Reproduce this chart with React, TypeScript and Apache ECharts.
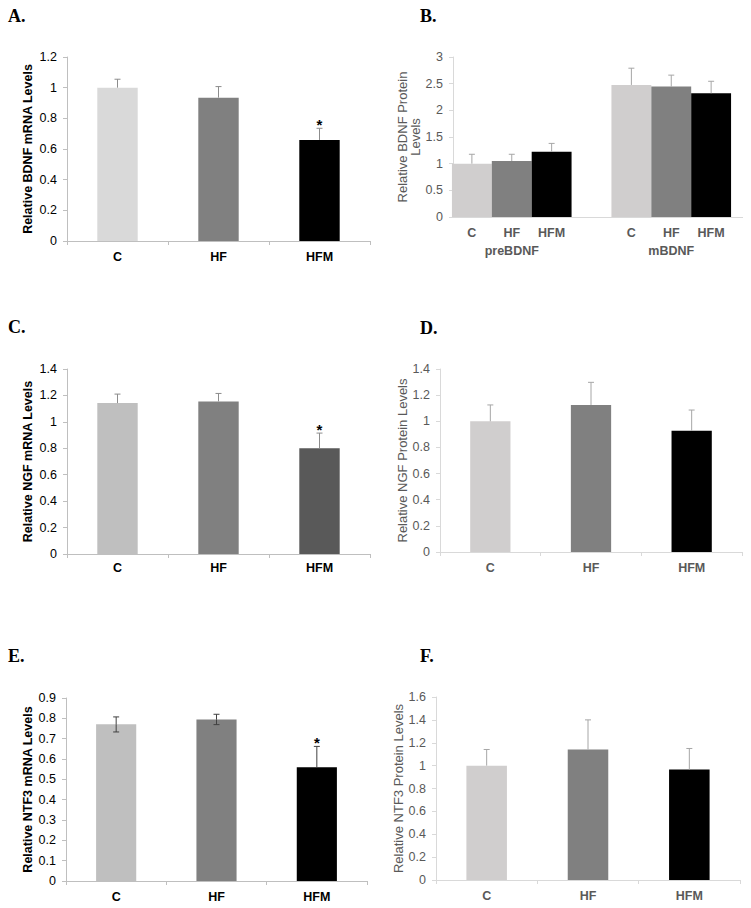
import React, { useEffect, useRef } from "react";
import * as echarts from "echarts";

// ---------- data ----------
const CATEGORIES = ["C", "HF", "HFM"];
const STARS = ["", "", "*"];

const A_VALUES = [1.0, 0.935, 0.659];
const A_ERR = [0.055, 0.072, 0.076];

const B_GROUPS = ["preBDNF", "mBDNF"];
const B_C_VALUES = [1.0, 2.476];
const B_C_ERR = [0.176, 0.314];
const B_HF_VALUES = [1.05, 2.445];
const B_HF_ERR = [0.126, 0.215];
const B_HFM_VALUES = [1.225, 2.32];
const B_HFM_ERR = [0.155, 0.225];

const C_VALUES = [1.142, 1.155, 0.8];
const C_ERR = [0.068, 0.06, 0.115];

const D_VALUES = [1.0, 1.125, 0.928];
const D_ERR = [0.125, 0.173, 0.158];

const E_VALUES = [0.771, 0.794, 0.559];
const E_ERR_UP = [0.036, 0.026, 0.103];
const E_ERR_DOWN = [0.038, 0.025, 0];

const F_VALUES = [1.0, 1.141, 0.966];
const F_ERR = [0.141, 0.259, 0.184];

// axis ranges [max, interval]
const A_AXIS = [1.2, 0.2];
const B_AXIS = [3, 0.5];
const C_AXIS = [1.4, 0.2];
const D_AXIS = [1.4, 0.2];
const E_AXIS = [0.9, 0.1];
const F_AXIS = [1.6, 0.2];

const SANS = "'Liberation Sans', Arial, Helvetica, sans-serif";
const SERIF = "'Liberation Serif', 'Times New Roman', serif";

type Style = "dark" | "gray";

function yAxisCfg(gi: number, axis: number[], name: string, style: Style, nameGap: number, offset = 0) {
  const dark = style === "dark";
  return {
    type: "value",
    gridIndex: gi,
    min: 0,
    max: axis[0],
    interval: axis[1],
    offset,
    name,
    nameLocation: "middle",
    nameGap,
    nameTextStyle: {
      fontFamily: SANS,
      fontSize: dark ? 12.5 : 13,
      fontWeight: dark ? "bold" : "normal",
      color: dark ? "#000" : "#595959",
      lineHeight: 13,
    },
    axisLine: { show: true, lineStyle: { color: dark ? "#bfbfbf" : "#d9d9d9", width: 1 } },
    axisTick: { show: true, inside: false, length: 4, lineStyle: { color: dark ? "#bfbfbf" : "#d9d9d9" } },
    splitLine: { show: false },
    axisLabel: {
      fontFamily: SANS,
      fontSize: 12.5,
      color: dark ? "#000" : "#595959",
      margin: 10,
    },
  };
}

function xAxisCfg(gi: number, style: Style, margin: number) {
  const dark = style === "dark";
  return {
    type: "category",
    gridIndex: gi,
    data: CATEGORIES,
    axisLine: { show: true, lineStyle: { color: dark ? "#bfbfbf" : "#d9d9d9", width: 1 } },
    axisTick: { show: true, length: 4, lineStyle: { color: dark ? "#bfbfbf" : "#d9d9d9" } },
    axisLabel: {
      fontFamily: SANS,
      fontSize: 12.5,
      fontWeight: "bold",
      color: dark ? "#000" : "#595959",
      margin,
    },
  };
}

function errorSeries(
  gi: number,
  values: number[],
  up: number[],
  down: number[] | null,
  color: string,
  stars: string[] | null,
  slot: number = 0,
  slots: number = 1,
  groupRatio: number = 1
) {
  const data = values.map((v, i) => [i, v, up[i], down ? down[i] : 0]);
  return {
    type: "custom",
    xAxisIndex: gi,
    yAxisIndex: gi,
    z: 5,
    silent: true,
    data,
    encode: { x: 0, y: 1 },
    renderItem: (params: any, api: any) => {
      const idx = api.value(0);
      const v = api.value(1);
      const u = api.value(2);
      const d = api.value(3);
      const catW = api.size([1, 0])[0];
      const bw = (catW * groupRatio) / slots;
      const dx = (slot - (slots - 1) / 2) * bw;
      const b = api.coord([idx, v]);
      const t = api.coord([idx, v + u]);
      const x = b[0] + dx;
      const cap = 3;
      const ls = { stroke: color, lineWidth: 1 };
      const children: any[] = [
        { type: "line", shape: { x1: x, y1: b[1], x2: x, y2: t[1] }, style: ls },
        { type: "line", shape: { x1: x - cap, y1: t[1], x2: x + cap, y2: t[1] }, style: ls },
      ];
      if (d > 0) {
        const l = api.coord([idx, v - d]);
        children.push({ type: "line", shape: { x1: x, y1: b[1], x2: x, y2: l[1] }, style: ls });
        children.push({ type: "line", shape: { x1: x - cap, y1: l[1], x2: x + cap, y2: l[1] }, style: ls });
      }
      if (stars && stars[idx]) {
        children.push({
          type: "text",
          x: x,
          y: t[1] + 4,
          style: {
            text: stars[idx],
            fill: "#000",
            font: `bold 15px ${SANS}`,
            align: "center",
            verticalAlign: "bottom",
          },
        });
      }
      return { type: "group", children };
    },
  };
}

function simpleBar(gi: number, values: number[], colors: string[]) {
  return {
    type: "bar",
    xAxisIndex: gi,
    yAxisIndex: gi,
    barWidth: "40%",
    data: values.map((v, i) => ({ value: v, itemStyle: { color: colors[i] } })),
  };
}

function panelLabel(text: string, x: number, y: number) {
  return {
    type: "text",
    x,
    y,
    style: {
      text,
      fill: "#000",
      font: `bold 18px ${SERIF}`,
      align: "left",
      verticalAlign: "middle",
    },
  };
}

export default function App() {
  const ref = useRef<HTMLDivElement>(null);
  useEffect(() => {
    if (!ref.current) return;
    const chart = echarts.init(ref.current, undefined, { renderer: "svg" });

    const grayLabel = {
      fontFamily: SANS,
      fontSize: 12.5,
      fontWeight: "bold",
      color: "#595959",
    };

    const bBar = (name: string, values: number[], color: string) => ({
      type: "bar",
      name,
      xAxisIndex: 1,
      yAxisIndex: 1,
      barGap: "0%",
      barCategoryGap: "25%",
      itemStyle: { color },
      label: { show: true, position: "bottom", distance: 9, formatter: name, ...grayLabel },
      data: values,
    });

    const option: any = {
      animation: false,
      backgroundColor: "#fff",
      grid: [
        { left: 67, top: 57, width: 303, height: 184 },
        { left: 432, top: 57, width: 332, height: 160 },
        { left: 67, top: 369, width: 303, height: 185 },
        { left: 440, top: 369, width: 302, height: 183 },
        { left: 66, top: 698, width: 301, height: 183 },
        { left: 436, top: 697, width: 304, height: 183 },
      ],
      xAxis: [
        xAxisCfg(0, "dark", 9),
        {
          type: "category",
          gridIndex: 1,
          data: B_GROUPS,
          axisLine: { show: false },
          axisTick: { show: false },
          axisLabel: { ...grayLabel, margin: 27 },
        },
        xAxisCfg(2, "dark", 7),
        xAxisCfg(3, "gray", 9),
        xAxisCfg(4, "dark", 9),
        xAxisCfg(5, "gray", 9),
      ],
      yAxis: [
        yAxisCfg(0, A_AXIS, "Relative BDNF mRNA Levels", "dark", 33),
        yAxisCfg(1, B_AXIS, "Relative BDNF Protein\nLevels", "gray", 27, -21),
        yAxisCfg(2, C_AXIS, "Relative NGF mRNA Levels", "dark", 33),
        yAxisCfg(3, D_AXIS, "Relative NGF Protein Levels", "gray", 31),
        yAxisCfg(4, E_AXIS, "Relative NTF3 mRNA Levels", "dark", 32),
        yAxisCfg(5, F_AXIS, "Relative NTF3 Protein Levels", "gray", 31),
      ],
      series: [
        simpleBar(0, A_VALUES, ["#d9d9d9", "#808080", "#000000"]),
        errorSeries(0, A_VALUES, A_ERR, null, "#8c8c8c", STARS),

        bBar("C", B_C_VALUES, "#d0cece"),
        bBar("HF", B_HF_VALUES, "#808080"),
        bBar("HFM", B_HFM_VALUES, "#000000"),
        errorSeries(1, B_C_VALUES, B_C_ERR, null, "#a6a6a6", null, 0, 3, 0.75),
        errorSeries(1, B_HF_VALUES, B_HF_ERR, null, "#a6a6a6", null, 1, 3, 0.75),
        errorSeries(1, B_HFM_VALUES, B_HFM_ERR, null, "#a6a6a6", null, 2, 3, 0.75),

        simpleBar(2, C_VALUES, ["#bfbfbf", "#808080", "#595959"]),
        errorSeries(2, C_VALUES, C_ERR, null, "#8c8c8c", STARS),

        simpleBar(3, D_VALUES, ["#d0cece", "#808080", "#000000"]),
        errorSeries(3, D_VALUES, D_ERR, null, "#a6a6a6", null),

        simpleBar(4, E_VALUES, ["#bfbfbf", "#808080", "#000000"]),
        errorSeries(4, E_VALUES, E_ERR_UP, E_ERR_DOWN, "#404040", STARS),

        simpleBar(5, F_VALUES, ["#d0cece", "#808080", "#000000"]),
        errorSeries(5, F_VALUES, F_ERR, null, "#a6a6a6", null),
      ],
      graphic: [
        panelLabel("A.", 8, 16),
        panelLabel("B.", 420, 16),
        panelLabel("C.", 8, 327),
        panelLabel("D.", 420, 328),
        panelLabel("E.", 8, 656),
        panelLabel("F.", 420, 656),
        {
          type: "line",
          shape: { x1: 453, y1: 217.5, x2: 743, y2: 217.5 },
          style: { stroke: "#d9d9d9", lineWidth: 1 },
          z: 0,
        },
      ],
    };
    chart.setOption(option);
    return () => chart.dispose();
  }, []);
  return (
    <div
      ref={ref}
      style={{ position: "fixed", left: 0, top: 0, width: 751, height: 908, background: "#fff" }}
    />
  );
}
